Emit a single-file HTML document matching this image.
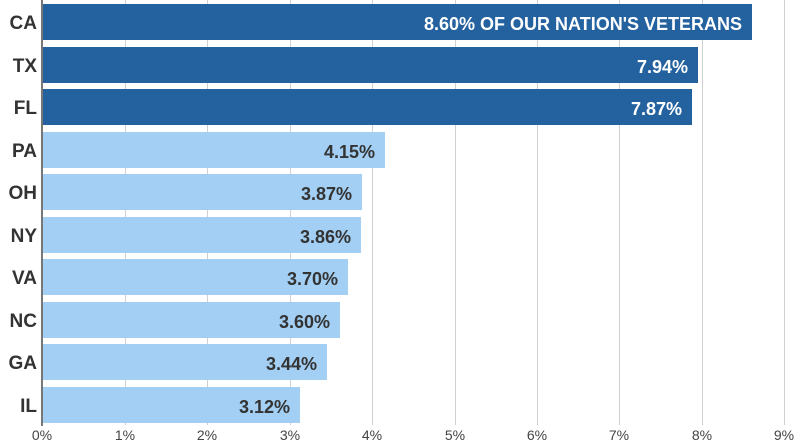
<!DOCTYPE html>
<html><head><style>
body{margin:0;background:#fff;width:807px;height:448px;overflow:hidden;font-family:"Liberation Sans Narrow","Liberation Sans",sans-serif;}
.wrap{position:relative;width:807px;height:448px;}
.grid{position:absolute;top:0;height:425px;width:1px;background:#d0d0d0;}
.axis{position:absolute;left:41px;top:0;width:2px;height:426px;background:#777;}
.bar{position:absolute;left:43px;height:36px;box-sizing:border-box;}
.dark{background:#24629f;color:#fff;}
.light{background:#a2cff3;color:#333;}
.val{position:absolute;right:10px;top:0;line-height:40px;font-size:18px;font-weight:bold;white-space:nowrap;}
.lab{position:absolute;left:0;width:37px;text-align:right;font-size:19px;font-weight:bold;color:#333;line-height:36px;}
.tick{position:absolute;top:427px;font-size:14px;color:#444;width:40px;margin-left:-20px;text-align:center;}
</style></head><body><div class="wrap">
<div class="grid" style="left:125px"></div><div class="grid" style="left:207px"></div><div class="grid" style="left:290px"></div><div class="grid" style="left:372px"></div><div class="grid" style="left:455px"></div><div class="grid" style="left:537px"></div><div class="grid" style="left:619px"></div><div class="grid" style="left:702px"></div><div class="grid" style="left:784px"></div>

<div class="bar dark" style="top:4px;width:709px"><span class="val">8.60% OF OUR NATION'S VETERANS</span></div>
<div class="bar dark" style="top:46.5px;width:655px"><span class="val">7.94%</span></div>
<div class="bar dark" style="top:89px;width:649px"><span class="val">7.87%</span></div>
<div class="bar light" style="top:131.5px;width:342px"><span class="val">4.15%</span></div>
<div class="bar light" style="top:174px;width:319px"><span class="val">3.87%</span></div>
<div class="bar light" style="top:216.5px;width:318px"><span class="val">3.86%</span></div>
<div class="bar light" style="top:259px;width:305px"><span class="val">3.70%</span></div>
<div class="bar light" style="top:301.5px;width:297px"><span class="val">3.60%</span></div>
<div class="bar light" style="top:344px;width:284px"><span class="val">3.44%</span></div>
<div class="bar light" style="top:386.5px;width:257px"><span class="val">3.12%</span></div>

<div class="lab" style="top:6px">CA</div>
<div class="lab" style="top:48.5px">TX</div>
<div class="lab" style="top:91px">FL</div>
<div class="lab" style="top:133.5px">PA</div>
<div class="lab" style="top:176px">OH</div>
<div class="lab" style="top:218.5px">NY</div>
<div class="lab" style="top:261px">VA</div>
<div class="lab" style="top:303.5px">NC</div>
<div class="lab" style="top:346px">GA</div>
<div class="lab" style="top:388.5px">IL</div>

<div class="axis"></div>
<div class="tick" style="left:42px">0%</div><div class="tick" style="left:125px">1%</div><div class="tick" style="left:207px">2%</div><div class="tick" style="left:290px">3%</div><div class="tick" style="left:372px">4%</div><div class="tick" style="left:455px">5%</div><div class="tick" style="left:537px">6%</div><div class="tick" style="left:619px">7%</div><div class="tick" style="left:702px">8%</div><div class="tick" style="left:784px">9%</div>
</div></body></html>
